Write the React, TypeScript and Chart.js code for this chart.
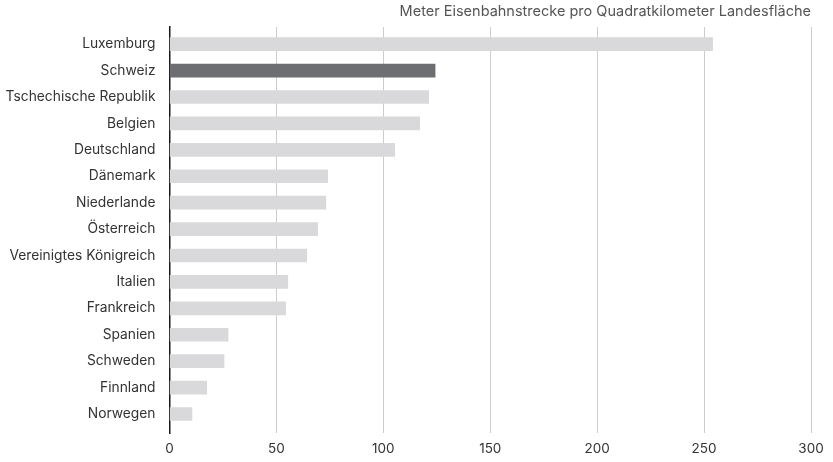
import React, { useEffect, useRef } from "react";
import { Chart, registerables } from "chart.js";

Chart.register(...registerables);

const countries = [
  "Luxemburg",
  "Schweiz",
  "Tschechische Republik",
  "Belgien",
  "Deutschland",
  "Dänemark",
  "Niederlande",
  "Österreich",
  "Vereinigtes Königreich",
  "Italien",
  "Frankreich",
  "Spanien",
  "Schweden",
  "Finnland",
  "Norwegen",
];
const values = [254, 124.2, 121.2, 117, 105.3, 74, 73.1, 69.3, 64.2, 55.3, 54.3, 27.4, 25.5, 17.4, 10.5];
const highlight = "Schweiz";
const xTicks = [0, 50, 100, 150, 200, 250, 300];
const titleText = "Meter Eisenbahnstrecke pro Quadratkilometer Landesfläche";

const FONT = "Inter, 'Liberation Sans', Arial, sans-serif";

export default function App() {
  const ref = useRef<HTMLCanvasElement | null>(null);
  useEffect(() => {
    if (!ref.current) return;
    const chart = new Chart(ref.current, {
      type: "bar",
      data: {
        labels: countries,
        datasets: [
          {
            data: values.map((v, i) => ({ x: v, y: i })) as any,
            backgroundColor: countries.map((c) => (c === highlight ? "#6d6e71" : "#d9d9db")),
            barThickness: 13,
            borderWidth: 0,
          },
        ],
      },
      options: {
        indexAxis: "y",
        animation: false,
        responsive: false,
        maintainAspectRatio: false,
        layout: { padding: { left: 0, right: 22, top: 0, bottom: 0 } },
        plugins: {
          legend: { display: false },
          tooltip: { enabled: false },
          title: {
            display: true,
            text: titleText,
            align: "end",
            color: "#555",
            font: { family: FONT, size: 14.5, weight: "normal" },
            padding: { top: 3, bottom: 6.6 },
          },
        },
        scales: {
          x: {
            type: "linear",
            position: "bottom",
            min: 0,
            max: 300,
            afterBuildTicks: (axis: any) => {
              axis.ticks = xTicks.map((v) => ({ value: v }));
            },
            afterFit: (axis: any) => {
              axis.height = 29;
            },
            grid: { color: "#cccccc", lineWidth: 1, drawTicks: false },
            border: { display: false },
            ticks: { color: "#333", font: { family: FONT, size: 13.5 }, padding: 8 },
          },
          y: {
            type: "linear",
            reverse: true,
            offset: false,
            min: -0.65,
            max: 14.72,
            afterBuildTicks: (axis: any) => {
              axis.ticks = countries.map((_, i) => ({ value: i }));
            },
            afterFit: (axis: any) => {
              axis.width = 169.5;
            },
            grid: { display: false, drawTicks: false, offset: false },
            border: { display: true, color: "#1a1a1a", width: 1.5 },
            ticks: {
              color: "#333",
              font: { family: FONT, size: 13.8 },
              padding: 14,
              autoSkip: false,
              callback: (v: any) => countries[v as number] ?? "",
            },
          },
        },
      },
    });
    return () => chart.destroy();
  }, []);
  return (
    <div style={{ position: "absolute", left: 0, top: 0, width: 833, height: 462 }}>
      <canvas ref={ref} width={833} height={462} style={{ width: 833, height: 462 }} />
    </div>
  );
}
